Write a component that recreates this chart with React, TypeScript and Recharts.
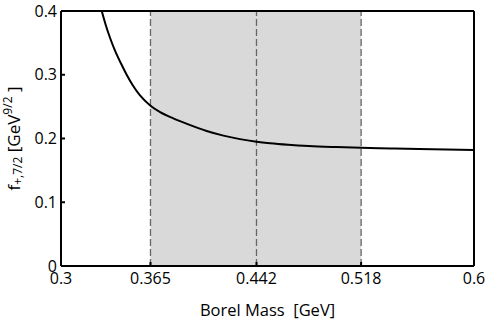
import {
  ComposedChart,
  Line,
  XAxis,
  YAxis,
  ReferenceArea,
  ReferenceLine,
} from 'recharts'

// Borel mass in GeV
const borelMass = [
  0.3296, 0.3325, 0.3356, 0.339, 0.3435, 0.3477, 0.352, 0.3574, 0.365, 0.372, 0.3816,
  0.392, 0.4058, 0.418, 0.43, 0.442, 0.4518, 0.465, 0.48, 0.5, 0.518, 0.54, 0.56, 0.58, 0.6,
]
// f_{+,7/2} in GeV^{9/2}
const formFactor = [
  0.4, 0.378, 0.358, 0.339, 0.318, 0.3, 0.284, 0.2675, 0.2515, 0.2415, 0.2316,
  0.2225, 0.2118, 0.2045, 0.199, 0.195, 0.1926, 0.1902, 0.1882, 0.1866, 0.1855, 0.1845,
  0.1836, 0.1828, 0.1821,
]

const xTicks = [0.3, 0.365, 0.442, 0.518, 0.6]
const yTicks = [0, 0.1, 0.2, 0.3, 0.4]
const windowEdges = [0.365, 0.442, 0.518]

const data = borelMass.map((m, i) => ({ m, f: formFactor[i] }))

const FONT = '"Open Sans", sans-serif'
const tickStyle = { fontSize: 16, fill: '#000', fontFamily: FONT }
const axisStyle = { stroke: '#000', strokeWidth: 2 }

function YTitle({ viewBox }: any) {
  const cx = 13
  const cy = viewBox.y + viewBox.height / 2
  return (
    <text
      x={cx}
      y={cy}
      transform={`rotate(-90, ${cx}, ${cy})`}
      textAnchor="middle"
      dominantBaseline="central"
      fontFamily={FONT}
      fontSize={17}
      fill="#000"
    >
      f
      <tspan fontSize={12} dy={4}>+,7/2</tspan>
      <tspan dy={-4}>{'\u00A0[GeV'}</tspan>
      <tspan fontSize={12} dy={-6}>9/2</tspan>
      <tspan dy={6}>{'\u00A0]'}</tspan>
    </text>
  )
}

export default function App() {
  return (
    <div style={{ position: 'absolute', left: 0, top: 0 }}>
      <ComposedChart
        width={502}
        height={320}
        data={data}
        margin={{ top: 11, right: 0, left: 21, bottom: 0 }}
      >
        <ReferenceArea
          yAxisId="left"
          x1={0.365}
          x2={0.518}
          y1={0}
          y2={0.4}
          fill="#d9d9d9"
          fillOpacity={1}
          stroke="none"
        />
        {windowEdges.map((x) => (
          <ReferenceLine
            key={x}
            yAxisId="left"
            x={x}
            stroke="#666"
            strokeWidth={1.3}
            strokeDasharray="7 3"
          />
        ))}
        <ReferenceLine yAxisId="left" y={0.4} stroke="#000" strokeWidth={2} />
        <XAxis
          dataKey="m"
          type="number"
          domain={[0.3, 0.6]}
          ticks={xTicks}
          tickFormatter={(v) => String(v)}
          height={54}
          tickSize={-4}
          tickMargin={11}
          tick={tickStyle}
          axisLine={axisStyle}
          tickLine={axisStyle}
          label={{
            value: 'Borel Mass\u00A0 [GeV]',
            position: 'insideBottom',
            offset: 4,
            style: { fontSize: 16.5, fill: '#000', fontFamily: FONT },
          }}
        />
        <YAxis
          yAxisId="left"
          type="number"
          domain={[0, 0.4]}
          ticks={yTicks}
          allowDataOverflow
          width={40}
          tickSize={-4}
          tickMargin={8}
          tick={tickStyle}
          axisLine={axisStyle}
          tickLine={axisStyle}
          label={<YTitle />}
        />
        <YAxis
          yAxisId="right"
          orientation="right"
          type="number"
          domain={[0, 0.4]}
          ticks={yTicks}
          width={28}
          tickSize={-4}
          tickMargin={7}
          tick={tickStyle}
          axisLine={axisStyle}
          tickLine={axisStyle}
        />
        <Line
          yAxisId="left"
          dataKey="f"
          type="monotone"
          stroke="#000"
          strokeWidth={2}
          dot={false}
          isAnimationActive={false}
        />
      </ComposedChart>
    </div>
  )
}
